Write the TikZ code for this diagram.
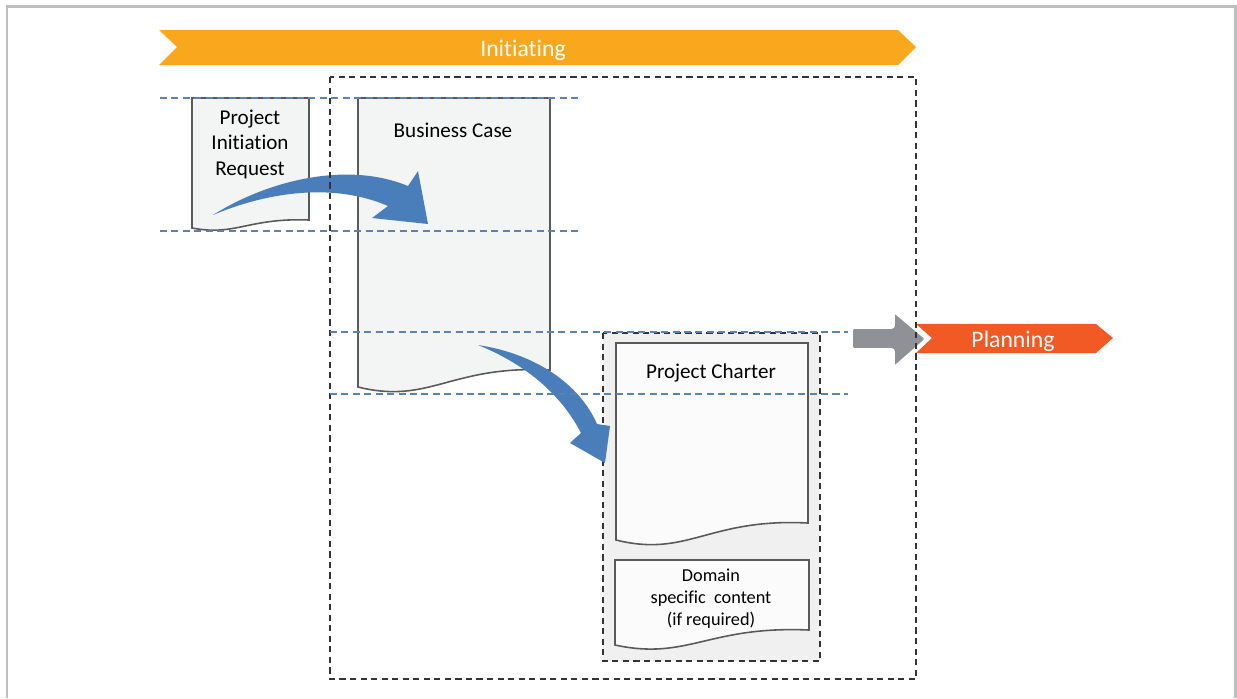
\documentclass[tikz,border=0pt]{standalone}
\usepackage{fontspec}
\setmainfont{Carlito}[Ligatures=NoCommon]
\usetikzlibrary{positioning}

\definecolor{initorange}{HTML}{F9A81E}
\definecolor{planorange}{HTML}{F15A24}
\definecolor{arrowblue}{HTML}{4A7EBB}
\definecolor{guideblue}{HTML}{5B82B0}
\definecolor{docgray}{HTML}{F3F4F4}
\definecolor{boxgray}{HTML}{F0F0F0}
\definecolor{linegray}{HTML}{5A5A5A}
\definecolor{arrowgray}{HTML}{909196}

% page with a wavy bottom: style, x1, top, x2, bottom-left, drop on the right
\newcommand{\docpage}[6]{%
    \filldraw[#1] (#2,#3) -- (#4,#3) -- (#4,{#5-#6})
        .. controls ({#4-0.52*(#4-#2)},{#5-1.3*#6}) and ({#2+0.375*(#4-#2)},{#5+1.05*#6}) .. (#2,#5)
        -- cycle;}

\begin{document}
\begin{tikzpicture}[x=0.02cm,y=-0.02cm,
        docstyle/.style={fill=docgray,draw=linegray,line width=0.9pt},
        whitedoc/.style={fill=white!97!gray,draw=linegray,line width=0.9pt},
        guide/.style={guideblue,dashed,dash pattern=on 4pt off 2.5pt,line width=0.6pt},
        region/.style={draw=black!80,dashed,dash pattern=on 3.5pt off 2.5pt,line width=0.7pt},
        label/.style={font=\fontsize{12}{14.5}\selectfont,align=center,inner sep=0pt},
        banner/.style={white,font=\fontsize{13.5}{16}\selectfont,inner sep=0pt}]
    \useasboundingbox (0,0) rectangle (1237,698);

    % frame
    \draw[black!25,line width=1.7pt] (7,698) -- (7,6) -- (1235,6) -- (1235,698);

    % phase banner
    \fill[initorange] (159,30) -- (898,30) -- (916,47) -- (898,65) -- (159,65) -- (177,47) -- cycle;
    \node[banner] (initiating) at (523,50) {Initiating};

    % grey box with the charter
    \filldraw[region,fill=boxgray] (603,333) rectangle (820,661);

    % documents
    \docpage{docstyle}{192}{98}{309}{228}{8}
    \node[label] (request) at (250,144) {Project\\Initiation\\Request};

    \docpage{docstyle}{358}{98}{550}{387}{17}
    \node[label] (bizcase) at (453,130) {Business Case};

    \docpage{whitedoc}{616}{343}{808}{540}{17}
    \node[label] (charter) at (711,373) {Project Charter};

    \docpage{whitedoc}{615}{560}{809}{645}{15}
    \node[label,font=\fontsize{10.4}{12.5}\selectfont] (domain) at (711,599)
        {Domain\\specific\ \ content\\(if required)};

    % curved arrows
    \fill[arrowblue] (213,215) .. controls (265,182) and (345,160) .. (408,186)
        -- (418,171) -- (428,224) -- (372,218) -- (388,206)
        .. controls (335,183) and (270,191) .. (213,215) -- cycle;
    \fill[arrowblue] (478,345) .. controls (537,354) and (580,385) .. (597,424)
        -- (610,426) -- (605,463) -- (570,443) -- (581,433)
        .. controls (563,398) and (530,366) .. (478,345) -- cycle;

    % next phase
    \fill[planorange] (916,324) -- (1096,324) -- (1113,338) -- (1096,353) -- (916,353) -- (932,338) -- cycle;
    \node[banner] (planning) at (1013,341) {Planning};
    \filldraw[fill=arrowgray,draw=white,line width=1pt,rounded corners=1.5pt]
        (852,328) -- (894,328) -- (894,312) -- (926,339) -- (894,367) -- (894,349) -- (852,349) -- cycle;

    % outer region
    \draw[region] (330,77) rectangle (916,679);

    % guide lines
    \foreach \y in {98,231}
        \draw[guide] (160,\y) -- (580,\y);
    \foreach \y in {332,394}
        \draw[guide] (330,\y) -- (848,\y);
\end{tikzpicture}
\end{document}
